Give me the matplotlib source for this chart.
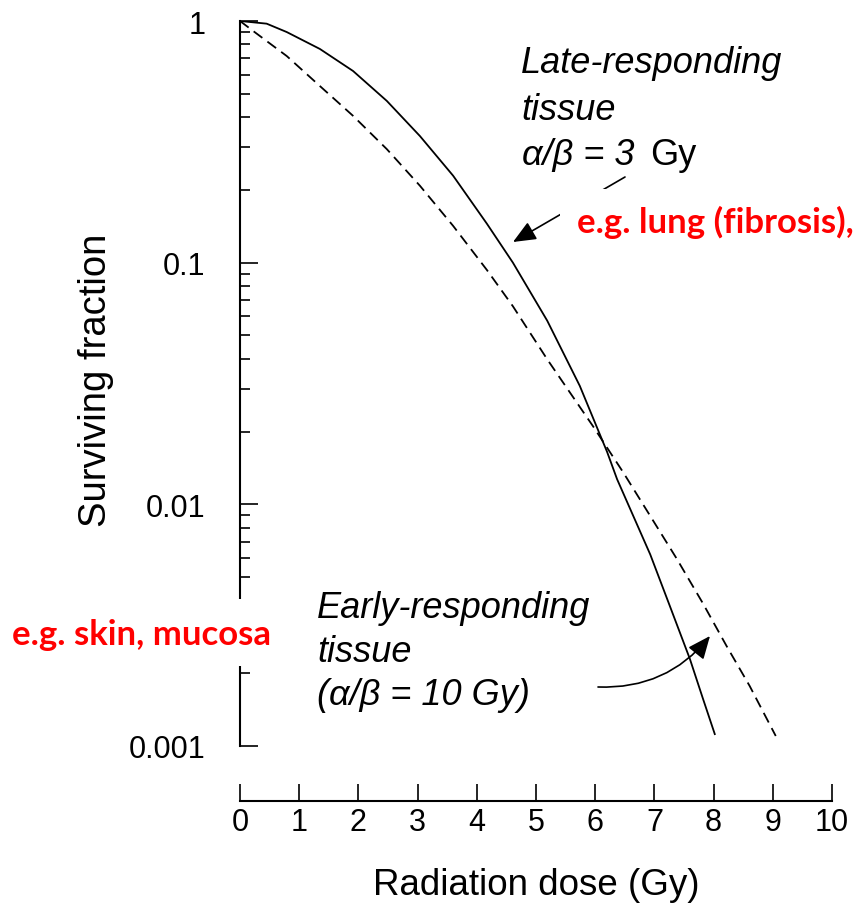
import matplotlib
matplotlib.use("Agg")
import matplotlib.pyplot as plt
from matplotlib.patches import Rectangle
from matplotlib.ticker import FixedLocator, FixedFormatter, NullFormatter

plt.rcParams['font.family'] = ['Liberation Sans', 'DejaVu Sans']

# ---- data ----
late_dose = [0, 0.45, 0.79, 1.35, 1.91, 2.48, 3.04, 3.60, 4.17, 4.61, 5.19, 5.74,
             6.20, 6.37, 6.93, 7.26, 7.60, 7.82, 8.02]
late_sf = [1.0, 0.975, 0.90, 0.766, 0.621, 0.467, 0.334, 0.229, 0.145, 0.100, 0.0575,
           0.0309, 0.0165, 0.0127, 0.0062, 0.0038, 0.00229, 0.00157, 0.00112]

early_dose = [0, 0.22, 0.79, 1.35, 1.91, 2.48, 3.04, 3.60, 4.17, 4.61, 5.19, 5.96,
              6.47, 7.38, 7.82, 8.22, 8.61, 9.05]
early_sf = [1.0, 0.91, 0.716, 0.538, 0.405, 0.295, 0.208, 0.142, 0.0933, 0.066, 0.0398,
            0.0211, 0.0136, 0.00594, 0.00389, 0.00259, 0.00177, 0.0011]

x_ticks = [0, 1, 2, 3, 4, 5, 6, 7, 8, 9, 10]
x_tick_labels = ["0", "1", "2", "3", "4", "5", "6", "7", "8", "9", "10"]
y_ticks = [0.001, 0.01, 0.1, 1]
y_tick_labels = ["0.001", "0.01", "0.1", "1"]
y_minor = [m * 10.0 ** k for k in (-3, -2, -1) for m in range(2, 10)]

W, H = 856, 904
fig = plt.figure(figsize=(W / 100, H / 100), dpi=100)
ax = fig.add_axes([240 / W, 1 - 802 / H, 592 / W, 780 / H])


def fx(px):
    return px / W


def fy(py):
    return 1 - py / H


def P(px, py):
    return (px, H - py)


ax.plot(late_dose, late_sf, color='black', lw=1.3, solid_joinstyle='round')
ax.plot(early_dose, early_sf, color='black', lw=1.3, linestyle=(0, (6, 3.5)))

ax.set_yscale('log')
ax.set_xlim(0, 10)
ax.set_ylim(10 ** -3.2276, 1.0)

for s in ('top', 'right'):
    ax.spines[s].set_visible(False)
ax.spines['left'].set_bounds(0.001, 1)
ax.spines['bottom'].set_bounds(0, 10)
ax.spines['left'].set_linewidth(1.5)
ax.spines['bottom'].set_linewidth(1.5)

ax.xaxis.set_major_locator(FixedLocator(x_ticks))
ax.xaxis.set_major_formatter(FixedFormatter(x_tick_labels))
ax.yaxis.set_major_locator(FixedLocator(y_ticks))
ax.yaxis.set_major_formatter(FixedFormatter(y_tick_labels))
ax.yaxis.set_minor_locator(FixedLocator(y_minor))
ax.yaxis.set_minor_formatter(NullFormatter())
ax.xaxis.set_minor_locator(FixedLocator([]))

ax.tick_params(axis='x', which='major', direction='in', length=12, width=1.2,
               labelsize=22, pad=4)
ax.tick_params(axis='y', which='major', direction='in', length=13, width=1.2,
               labelsize=22, pad=25)
ax.tick_params(axis='y', which='minor', direction='in', length=7, width=1.2)

ax.set_xlabel("Radiation dose (Gy)", fontsize=26.5)
ax.xaxis.set_label_coords(0.5, -0.0846)
ax.set_ylabel("Surviving fraction", fontsize=27.5)
ax.yaxis.set_label_coords(-0.213, 0.541)

# annotation text (black, italic)
tsize = 26
fig.text(fx(521), fy(73), "Late-responding", fontsize=tsize, style='italic', va='baseline')
fig.text(fx(521), fy(120), "tissue", fontsize=tsize, style='italic', va='baseline')
fig.text(fx(522), fy(165), "α/β = 3", fontsize=tsize, style='italic', va='baseline')
fig.text(fx(650), fy(165), "Gy", fontsize=tsize, va='baseline')

fig.text(fx(317), fy(618), "Early-responding", fontsize=tsize, style='italic', va='baseline')
fig.text(fx(317), fy(662), "tissue", fontsize=tsize, style='italic', va='baseline')
fig.text(fx(317), fy(705), "(α/β = 10 Gy)", fontsize=tsize, style='italic', va='baseline')

arrow_style = dict(arrowstyle='-|>,head_length=0.7,head_width=0.3', color='black',
                   lw=1.2, mutation_scale=20, shrinkA=0, shrinkB=0)
ax.annotate("", xy=P(513, 243), xycoords='figure pixels',
            xytext=P(625, 178), textcoords='figure pixels',
            arrowprops=arrow_style)
ax.annotate("", xy=P(710, 637), xycoords='figure pixels',
            xytext=P(598, 688), textcoords='figure pixels',
            arrowprops=dict(arrow_style, connectionstyle='arc3,rad=0.25'))

# red overlay labels with white boxes
fig.add_artist(Rectangle((0, H - 667), 275, 67, transform=None,
                         facecolor='white', edgecolor='none', zorder=5))
fig.add_artist(Rectangle((560, H - 252), 296, 62, transform=None,
                         facecolor='white', edgecolor='none', zorder=5))
fig.text(fx(12), fy(645), "e.g. skin, mucosa", fontsize=25, fontweight='bold',
         family='Lato', color='#FF0000', va='baseline', zorder=6)
fig.text(fx(577), fy(233), "e.g. lung (fibrosis),", fontsize=25, fontweight='bold',
         family='Lato', color='#FF0000', va='baseline', zorder=6)

fig.savefig("out.png", dpi=100)
